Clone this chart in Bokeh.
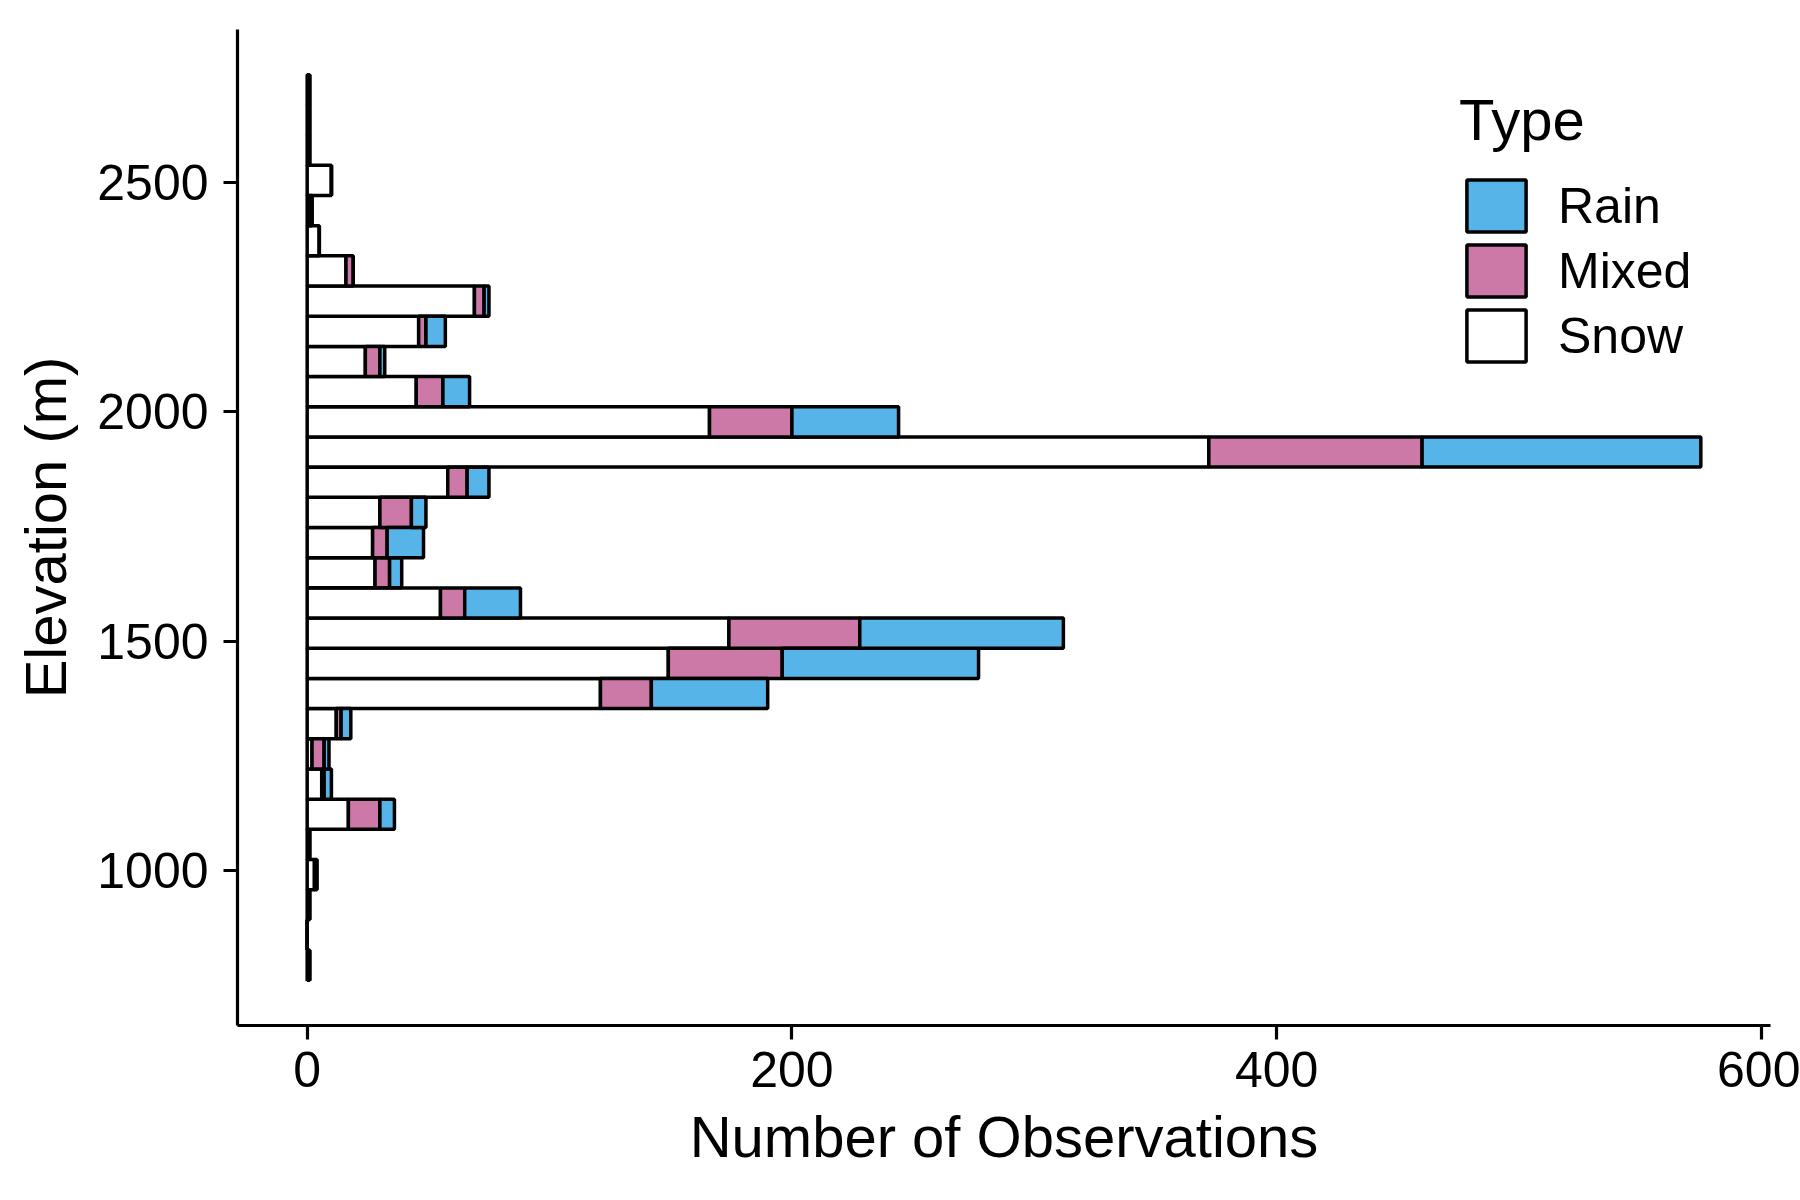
from bokeh.plotting import figure
from bokeh.models import ColumnDataSource, Range1d, Legend, LegendItem, FixedTicker
from bokeh.embed import file_html
from bokeh.resources import INLINE

# Elevation bin centres (m), bottom to top; bin width in metres
elev = [793.6, 859.4, 925.2, 990.9, 1056.7, 1122.5, 1188.3, 1254.1, 1319.9, 1385.7,
        1451.5, 1517.2, 1583.0, 1648.8, 1714.6, 1780.4, 1846.2, 1912.0, 1977.8, 2043.6,
        2109.3, 2175.1, 2240.9, 2306.7, 2372.5, 2438.3, 2504.1, 2569.9, 2635.7, 2701.4]
bin_width = 65.78

snow = [1, 0, 1, 3, 1, 17, 6, 2, 12, 121, 149, 174, 55, 28, 27, 30, 58, 372, 166, 45,
        24, 46, 69, 16, 5, 1, 10, 1, 1, 1]
mixed = [0, 0, 0, 1, 0, 13, 1, 5, 2, 21, 47, 54, 10, 6, 6, 13, 8, 88, 34, 11,
         6, 3, 4, 3, 0, 1, 0, 0, 0, 0]
rain = [0, 0, 0, 0, 0, 6, 3, 2, 4, 48, 81, 84, 23, 5, 15, 6, 9, 115, 44, 11,
        2, 8, 2, 0, 0, 0, 0, 0, 0, 0]

types = ["Snow", "Mixed", "Rain"]
colors = {"Snow": "#FFFFFF", "Mixed": "#CC79A7", "Rain": "#56B4E9"}

x_ticks = [0, 200, 400, 600]
y_ticks = [1000, 1500, 2000, 2500]

source = ColumnDataSource(dict(elev=elev, Snow=snow, Mixed=mixed, Rain=rain))

totals = [s + m + r for s, m, r in zip(snow, mixed, rain)]
xmax = max(totals)
ylo = min(elev) - bin_width / 2
yhi = max(elev) + bin_width / 2
ypad = (yhi - ylo) * 0.05

p = figure(width=1800, height=1200, output_backend="svg", toolbar_location=None,
           x_range=Range1d(-0.05 * xmax, 1.05 * xmax),
           y_range=Range1d(ylo - ypad, yhi + ypad),
           min_border_left=237, min_border_right=30, min_border_top=29, min_border_bottom=175)

renderers = p.hbar_stack(types, y="elev", height=bin_width, source=source,
                         fill_color=[colors[t] for t in types],
                         line_color="black", line_width=3.5)

font = "Liberation Sans"
p.xgrid.visible = False
p.ygrid.visible = False
p.outline_line_color = None

for ax in (p.xaxis[0], p.yaxis[0]):
    ax.axis_line_color = "black"
    ax.axis_line_width = 3.2
    ax.major_tick_line_color = "black"
    ax.major_tick_line_width = 3.2
    ax.major_tick_out = 14
    ax.major_tick_in = 0
    ax.minor_tick_line_color = None
    ax.major_label_text_font = font
    ax.major_label_text_font_size = "50px"
    ax.major_label_text_color = "black"
    ax.axis_label_text_font = font
    ax.axis_label_text_font_size = "58px"
    ax.axis_label_text_font_style = "normal"
    ax.axis_label_text_color = "black"

p.xaxis.major_label_standoff = 12
p.yaxis.major_label_standoff = 15
p.xaxis.ticker = FixedTicker(ticks=x_ticks)
p.yaxis.ticker = FixedTicker(ticks=y_ticks)
p.xaxis.axis_label = "Number of Observations"
p.yaxis.axis_label = "Elevation (m)"
p.xaxis.axis_label_standoff = 14
p.yaxis.axis_label_standoff = 16

rmap = dict(zip(types, renderers))
legend = Legend(items=[LegendItem(label=t, renderers=[rmap[t]]) for t in ["Rain", "Mixed", "Snow"]],
                location=(1222, 657), orientation="vertical",
                title="Type", title_text_font=font, title_text_font_size="58px",
                title_text_font_style="normal", title_text_color="black", title_standoff=20,
                label_text_font=font, label_text_font_size="50px", label_text_color="black",
                glyph_width=74, glyph_height=65, spacing=0, label_standoff=25,
                padding=0, margin=0, border_line_color=None, background_fill_alpha=0)
p.add_layout(legend)

open("out.html", "w").write(file_html(p, INLINE))
